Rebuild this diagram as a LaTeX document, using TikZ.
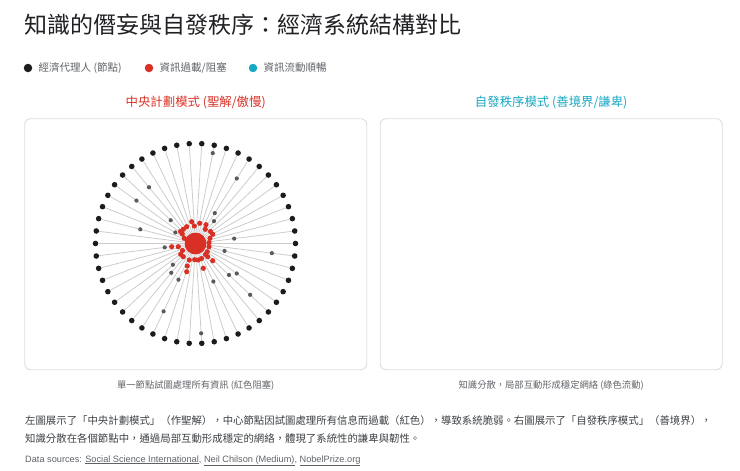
\documentclass[tikz,border=0pt]{standalone}
\usepackage{fontspec}
\setmainfont{Noto Sans CJK TC}
\newfontfamily\latinfont{Liberation Sans}
\usepackage{xcolor}
\usetikzlibrary{positioning}
\definecolor{inkblack}{HTML}{202124}
\definecolor{textgray}{HTML}{5f6368}
\definecolor{bodygray}{HTML}{3c4043}
\definecolor{agentblack}{HTML}{1c1c1c}
\definecolor{packetgray}{HTML}{5a5a5a}
\definecolor{jamred}{HTML}{d93025}
\definecolor{flowcyan}{HTML}{17a8c2}
\definecolor{spokegray}{HTML}{cccccc}
\definecolor{bordergray}{HTML}{dcdcdc}

\begin{document}
\begin{tikzpicture}[x=1pt, y=1pt,
    agent/.style={circle, fill=agentblack, inner sep=0, minimum size=5.6pt},
    packet/.style={circle, fill=packetgray, inner sep=0, minimum size=4.2pt},
    jam/.style={circle, fill=jamred, inner sep=0, minimum size=5.2pt},
    spoke/.style={draw=spokegray, line width=0.8pt},
    panel/.style={draw=bordergray, line width=0.9pt, rounded corners=6pt, minimum width=342pt, minimum height=251pt},
    keydot/.style={circle, inner sep=0, minimum size=8.5pt},
    keytext/.style={anchor=west, inner sep=0, text=textgray, font=\fontsize{10.5}{12}\selectfont},
    caption/.style={inner sep=0, text=textgray, font=\fontsize{9.3}{11}\selectfont}]

\useasboundingbox (0,0) rectangle (740,-471);

% heading and key
\node[anchor=west, inner sep=0, text=inkblack, font=\fontsize{23}{26}\selectfont] (title) at (24,-25) {知識的僭妄與自發秩序：經濟系統結構對比};

\node[keydot, fill=agentblack] (k1) at (28,-68) {};
\node[keytext, right=6pt of k1] (k1t) {經濟代理人 (節點)};
\node[keydot, fill=jamred] (k2) at (149,-68) {};
\node[keytext, right=6pt of k2] (k2t) {資訊過載/阻塞};
\node[keydot, fill=flowcyan] (k3) at (253,-68) {};
\node[keytext, right=6pt of k3] (k3t) {資訊流動順暢};

% the two panels
\node[panel] (plan) at (195.7,-244.2) {};
\node[panel] (order) at (551.2,-244.2) {};

\node[inner sep=0, text=jamred, font=\fontsize{12.4}{14}\selectfont] (plantitle) at ([yshift=16pt]plan.north) {中央計劃模式 (聖解/傲慢)};
\node[inner sep=0, text=flowcyan, font=\fontsize{12.4}{14}\selectfont] (ordertitle) at ([yshift=16pt]order.north) {自發秩序模式 (善境界/謙卑)};

\node[caption] (plancap) at ([yshift=-15pt]plan.south) {單一節點試圖處理所有資訊 (紅色阻塞)};
\node[caption] (ordercap) at ([yshift=-15pt]order.south) {知識分散，局部互動形成穩定網絡 (綠色流動)};

% central hub with its spokes
\node[circle, fill=jamred, inner sep=0, minimum size=22pt] (hub) at (195.5,-243.5) {};
\begin{scope}[shift={(hub.center)}]
    \foreach \i in {0,...,49}
        \node[agent] (a\i) at (\i*7.2:100) {};
    \foreach \i in {0,...,49}
        \draw[spoke] (hub) -- (a\i);

    % messages still travelling in
    \foreach \ang/\r [count=\k] in {79.2/92, 57.6/77, 129.6/73, 144/73, 57.6/36, 50.4/29,
        136.8/34, 151.2/23, 165.6/57, 7.2/39, 345.6/30, 187.2/31, 352.8/77, 223.2/31,
        230.4/38, 244.8/40, 295.2/42, 316.8/46, 324/51, 316.8/75, 244.8/75, 273.6/90}
        \node[packet] (p\k) at (\ang:\r) {};

    % messages stuck at the hub
    \foreach \dx/\dy [count=\k] in {-3.8/21.8, 4.2/20.2, 10.5/18.8, -1.2/17.5, -8.8/16.8,
        -12.2/14.2, 9.8/14.2, -13.2/9.5, 17.2/9.2, 14.5/5.2, 13.5/0.8, -11.2/5.2,
        -17.2/-3.2, -23.8/-3.2, 13.5/-3.2, 11.8/-8.2, 12.2/-13.2, -14.8/-10.8,
        -12.2/-13.2, -6.2/-16.5, -0.8/-16.2, 2.8/-16.5, 17.2/-17.2, -8.2/-22.5,
        7.8/-24.8, -8.8/-28.2, -15/12, 15/12, -13/-7, 10/-11, 6/-15}
        \node[jam] (j\k) at (\dx,\dy) {};
\end{scope}

% notes underneath
\node[anchor=west, inner sep=0, align=left, text=bodygray, font=\fontsize{10.4}{18.3}\selectfont] (note) at (25,-429.2)
    {左圖展示了「中央計劃模式」（作聖解），中心節點因試圖處理所有信息而過載（紅色），導致系統脆弱。右圖展示了「自發秩序模式」（善境界），\\
     知識分散在各個節點中，通過局部互動形成穩定的網絡，體現了系統性的謙卑與韌性。};

\node[anchor=west, inner sep=0, text=textgray, font=\latinfont\fontsize{9.2}{10}\selectfont] (sources) at (25,-460.7)
    {Data sources: \underline{Social Science International}, \underline{Neil Chilson (Medium)}, \underline{NobelPrize.org}};
\end{tikzpicture}
\end{document}
